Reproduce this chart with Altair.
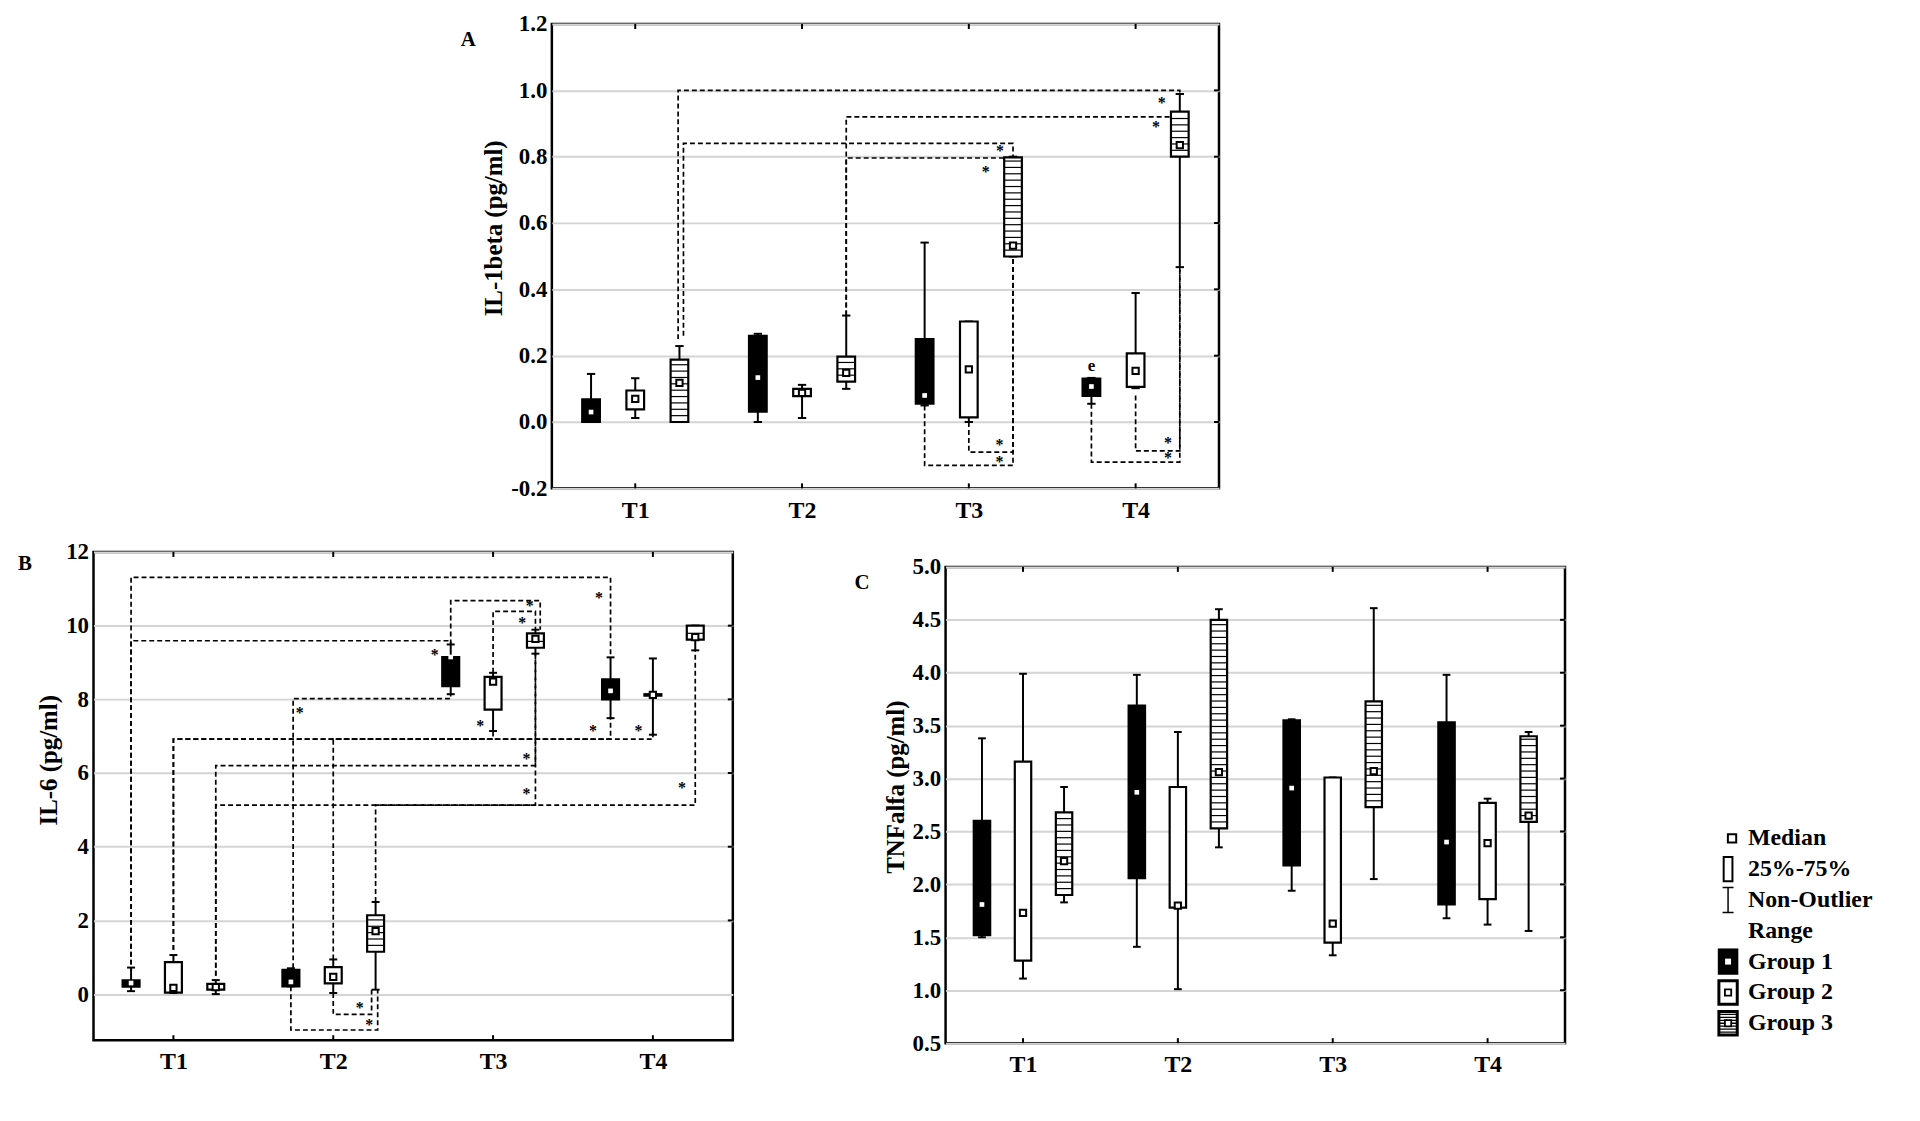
import numpy as np
import pandas as pd
import altair as alt

FONT = "Liberation Serif"

# order of the 12 entries: T1G1, T1G2, T1G3, T2G1, ..., T4G3
# ---- A: IL-1beta (pg/ml) ----
il1_lo = [0.0, 0.012, 0.0, 0.0, 0.012, 0.10, 0.05, 0.0, 0.499, 0.055, 0.102, 0.467]
il1_q1 = [0.0, 0.038, 0.0, 0.031, 0.078, 0.122, 0.055, 0.014, 0.499, 0.079, 0.106, 0.80]
il1_med = [0.03, 0.07, 0.118, 0.134, 0.088, 0.148, 0.08, 0.159, 0.532, 0.107, 0.154, 0.835]
il1_q3 = [0.068, 0.095, 0.188, 0.26, 0.10, 0.197, 0.25, 0.303, 0.798, 0.131, 0.207, 0.936]
il1_hi = [0.145, 0.132, 0.229, 0.266, 0.112, 0.321, 0.541, 0.303, 0.80, 0.133, 0.389, 0.989]

# ---- B: IL-6 (pg/ml) ----
il6_lo = [0.08, 0.03, 0.0, 0.21, 0.03, 0.12, 8.14, 7.14, 9.24, 7.49, 7.04, 9.33]
il6_q1 = [0.20, 0.04, 0.12, 0.21, 0.29, 1.15, 8.36, 7.72, 9.40, 8.00, 8.10, 9.62]
il6_med = [0.30, 0.17, 0.19, 0.33, 0.47, 1.71, 9.15, 8.48, 9.64, 8.23, 8.12, 9.69]
il6_q3 = [0.37, 0.87, 0.28, 0.66, 0.73, 2.14, 9.15, 8.61, 9.79, 8.54, 8.14, 10.0]
il6_hi = [0.72, 1.06, 0.38, 0.70, 0.94, 2.50, 9.49, 8.72, 9.89, 9.14, 9.11, 10.0]

# ---- C: TNFalfa (pg/ml) ----
tnf_lo = [1.50, 1.11, 1.83, 1.41, 1.01, 2.35, 1.94, 1.33, 2.05, 1.68, 1.62, 1.56]
tnf_q1 = [1.52, 1.28, 1.90, 2.06, 1.78, 2.53, 2.18, 1.45, 2.73, 1.81, 1.86, 2.59]
tnf_med = [1.81, 1.73, 2.22, 2.87, 1.80, 3.06, 2.91, 1.63, 3.07, 2.40, 2.39, 2.65]
tnf_q3 = [2.60, 3.16, 2.68, 3.69, 2.92, 4.50, 3.55, 3.01, 3.73, 3.53, 2.77, 3.40]
tnf_hi = [3.38, 3.99, 2.92, 3.98, 3.44, 4.60, 3.56, 3.01, 4.61, 3.98, 2.81, 3.44]

# significance brackets: (from T, from group, from y, level, to T, to group, to y[, leg shifts])
il1_brackets = [
    (1, 3, 0.25, 1.00, 4, 3, 0.989, -0.008, 0),
    (1, 3, 0.26, 0.84, 3, 3, 0.80, 0.024, 0),
    (2, 3, 0.321, 0.92, 4, 3, 0.92),
    (2, 3, 0.321, 0.796, 3, 3, 0.80),
    (3, 1, 0.05, -0.131, 3, 3, 0.50),
    (3, 2, 0.0, -0.091, 3, 3, 0.50),
    (4, 1, 0.055, -0.121, 4, 3, 0.467),
    (4, 2, 0.08, -0.087, 4, 3, 0.467),
]
il6_brackets = [
    (1, 1, 0.80, 11.31, 4, 1, 9.14),
    (1, 1, 0.80, 9.59, 3, 1, 9.49),
    (2, 1, 0.70, 8.02, 3, 1, 8.14, 0.014, 0),
    (1, 2, 1.20, 6.92, 3, 2, 7.14),
    (1, 2, 1.20, 6.92, 4, 2, 7.04),
    (2, 2, 0.94, 6.92, 4, 1, 7.49),
    (1, 3, 0.50, 6.20, 3, 3, 9.24),
    (1, 3, 0.50, 5.13, 4, 3, 9.33),
    (2, 3, 2.50, 5.13, 3, 3, 9.24),
    (3, 1, 9.49, 10.68, 3, 3, 9.89, 0, 0.03),
    (3, 2, 8.72, 10.39, 3, 3, 9.89),
    (2, 2, 0.03, -0.55, 2, 3, 0.12, 0, -0.025),
    (2, 1, 0.21, -0.975, 2, 3, 0.12, 0, 0.013),
]
# stars: (T, group, dx, y)
il1_stars = [(4, 3, -0.108, 0.971), (4, 3, -0.143, 0.899), (3, 3, -0.078, 0.827),
             (3, 3, -0.163, 0.763), (3, 3, -0.082, -0.061), (3, 3, -0.082, -0.112),
             (4, 3, -0.071, -0.053), (4, 3, -0.071, -0.099)]
il6_stars = [(4, 1, -0.072, 10.83), (3, 1, -0.10, 9.28), (2, 1, 0.055, 7.70),
             (3, 2, -0.08, 7.37), (4, 2, -0.09, 7.22), (4, 1, -0.11, 7.22),
             (3, 3, -0.056, 6.45), (3, 3, -0.056, 5.50), (4, 3, -0.083, 5.67),
             (3, 3, -0.035, 10.61), (3, 3, -0.083, 10.14), (2, 3, -0.10, -0.30),
             (2, 3, -0.04, -0.75)]
il1_notes = [(4, 1, 0.0, 0.169, "e")]

TIME_TICKS = [1, 2, 3, 4]
LEGEND_LABELS = ["Median", "25%-75%", "Non-Outlier", "Range", "Group 1", "Group 2", "Group 3"]

OFFSET = {1: -0.265, 2: 0.0, 3: 0.265}
BOX_HALF = 0.053
CAP_HALF = 0.025
X_SCALE = alt.Scale(domain=[0.5, 4.5], nice=False, zero=False)
X_AXIS = alt.Axis(values=TIME_TICKS, labelExpr="'T' + datum.value", grid=False,
                  domain=False, ticks=False, labelFont=FONT, labelFontSize=24,
                  labelFontWeight="bold", labelColor="black", labelPadding=10)


def box_frame(lo, q1, med, q3, hi):
    rows = []
    for i in range(12):
        t, g = i // 3 + 1, i % 3 + 1
        x = t + OFFSET[g]
        rows.append(dict(t=t, g=g, x=x, xl=x - BOX_HALF, xr=x + BOX_HALF,
                         cl=x - CAP_HALF, cr=x + CAP_HALF,
                         lo=lo[i], q1=q1[i], med=med[i], q3=q3[i], hi=hi[i]))
    return pd.DataFrame(rows)


def bracket_frame(brackets):
    rows = []
    for k, b in enumerate(brackets):
        ft, fg, fy, lev, tt, tg, ty = b[:7]
        dxf, dxt = (list(b[7:]) + [0, 0])[:2]
        xf = ft + OFFSET[fg] + dxf
        xt = tt + OFFSET[tg] + dxt
        for j, (x, y) in enumerate([(xf, fy), (xf, lev), (xt, lev), (xt, ty)]):
            rows.append(dict(id=k, seq=j, x=x, y=y))
    return pd.DataFrame(rows)


def hatch_frame(boxes, step):
    rows = []
    for _, r in boxes[boxes.g == 3].iterrows():
        for h in np.arange(r.q1 + step, r.q3 - step * 0.4, step):
            rows.append(dict(xl=r.xl, xr=r.xr, h=h))
    return pd.DataFrame(rows)


def panel(lo, q1, med, q3, hi, cfg, brackets=(), stars=(), notes=()):
    fmt = cfg["fmt"]
    w, h = cfg["width"], cfg["height"]
    y_axis = alt.Axis(values=cfg["ticks"],
                      labelExpr=f"datum.value < 0 ? '-' + format(-datum.value, '{fmt}') : format(datum.value, '{fmt}')",
                      grid=True, gridColor="#d4d4d4", gridWidth=2, domain=False, ticks=False,
                      labelFont=FONT, labelFontSize=23, labelFontWeight="bold", labelColor="black",
                      labelPadding=5, titleFont=FONT, titleFontSize=25, titleFontWeight="bold",
                      titleColor="black", titlePadding=4, titleY=cfg["title_y"])
    y_scale = alt.Scale(domain=cfg["domain"], nice=False, zero=False)

    def X(f):
        return alt.X(f, type="quantitative", scale=X_SCALE, axis=X_AXIS, title=None)

    def Y(f):
        return alt.Y(f, type="quantitative", scale=y_scale, axis=y_axis, title=cfg["title"])

    boxes = box_frame(lo, q1, med, q3, hi)
    step = 6.4 * (cfg["domain"][1] - cfg["domain"][0]) / h
    base = alt.Chart(boxes)
    xt = alt.Chart(pd.DataFrame({"t": TIME_TICKS}))
    yt = alt.Chart(pd.DataFrame({"v": cfg["ticks"][1:-1]}))
    layers = [
        # inner tick marks on the frame (top, bottom, right)
        xt.mark_rule(color="black", strokeWidth=2).encode(x=X("t"), y=alt.value(0), y2=alt.value(5)),
        xt.mark_rule(color="black", strokeWidth=2).encode(x=X("t"), y=alt.value(h - 5), y2=alt.value(h)),
        yt.mark_rule(color="black", strokeWidth=2).encode(x=alt.value(w - 5), x2=alt.value(w), y=Y("v")),
    ]
    if brackets:
        layers.append(alt.Chart(bracket_frame(brackets)).mark_line(
            color="black", strokeWidth=1.7, strokeDash=[5, 3]).encode(
            x=X("x"), y=Y("y"), detail="id:N", order="seq:Q"))
    layers += [
        base.mark_rule(color="black", strokeWidth=2).encode(x=X("x"), y=Y("lo"), y2="hi"),
        base.mark_rule(color="black", strokeWidth=2).encode(x=X("cl"), x2="cr", y=Y("lo")),
        base.mark_rule(color="black", strokeWidth=2).encode(x=X("cl"), x2="cr", y=Y("hi")),
        base.mark_rect(stroke="black", strokeWidth=2.2).encode(
            x=X("xl"), x2="xr", y=Y("q1"), y2="q3",
            fill=alt.Fill("g:N", scale=alt.Scale(domain=[1, 2, 3], range=["black", "white", "white"]),
                          legend=None)),
        alt.Chart(hatch_frame(boxes, step)).mark_rule(color="black", strokeWidth=1.2).encode(
            x=X("xl"), x2="xr", y=Y("h")),
        base.transform_filter("datum.g == 1").mark_square(size=22, color="white", opacity=1).encode(
            x=X("x"), y=Y("med")),
        base.transform_filter("datum.g != 1").mark_square(
            size=40, fill="white", stroke="black", strokeWidth=2, opacity=1).encode(
            x=X("x"), y=Y("med")),
    ]
    if stars:
        sdf = pd.DataFrame([dict(x=t + OFFSET[g] + dx, y=y) for t, g, dx, y in stars])
        layers.append(alt.Chart(sdf).mark_text(
            text="*", font=FONT, fontSize=16, fontWeight="bold", color="black", dy=3).encode(
            x=X("x"), y=Y("y")))
    if notes:
        ndf = pd.DataFrame([dict(x=t + OFFSET[g] + dx, y=y, s=s) for t, g, dx, y, s in notes])
        layers.append(alt.Chart(ndf).mark_text(
            font=FONT, fontSize=17, fontWeight="bold", color="black").encode(
            x=X("x"), y=Y("y"), text="s:N"))
    letter = alt.Chart(pd.DataFrame({"s": [cfg["letter"]]}))
    layers.append(letter.mark_text(
        font=FONT, fontSize=21, fontWeight="bold", color="black").encode(
        x=alt.value(cfg["letter_xy"][0]), y=alt.value(cfg["letter_xy"][1]), text="s:N"))
    return alt.layer(*layers).properties(
        width=w, height=h, view=alt.ViewBackground(stroke="black", strokeWidth=2.5))


def spacer(w, h):
    return alt.Chart(pd.DataFrame({"a": [0]})).mark_point(opacity=0, size=1).encode(
        x=alt.value(0), y=alt.value(0)).properties(
        width=w, height=h, view=alt.ViewBackground(stroke="transparent"))


chart_a = panel(il1_lo, il1_q1, il1_med, il1_q3, il1_hi,
                dict(domain=[-0.2, 1.2], ticks=[-0.2, 0, 0.2, 0.4, 0.6, 0.8, 1.0, 1.2], fmt=".1f",
                     title="IL-1beta (pg/ml)", title_y=205, letter="A", letter_xy=(-84, 16),
                     width=671, height=467),
                il1_brackets, il1_stars, il1_notes)
chart_b = panel(il6_lo, il6_q1, il6_med, il6_q3, il6_hi,
                dict(domain=[-1.25, 12], ticks=[0, 2, 4, 6, 8, 10, 12], fmt="d",
                     title="IL-6 (pg/ml)", title_y=209, letter="B", letter_xy=(-69, 12),
                     width=643, height=491),
                il6_brackets, il6_stars)
chart_c = panel(tnf_lo, tnf_q1, tnf_med, tnf_q3, tnf_hi,
                dict(domain=[0.5, 5.0], ticks=[0.5, 1, 1.5, 2, 2.5, 3, 3.5, 4, 4.5, 5], fmt=".1f",
                     title="TNFalfa (pg/ml)", title_y=221, letter="C", letter_xy=(-84, 16),
                     width=623, height=479))

# legend: custom glyphs
leg = pd.DataFrame({"row": list(range(len(LEGEND_LABELS))), "label": LEGEND_LABELS})
ly = alt.Y("row:O", axis=None, scale=alt.Scale(type="point", range=[288, 474], padding=0))
lb = alt.Chart(leg)
lx = alt.value(21)
RECT = "M -0.78 -1 L 0.78 -1 L 0.78 1 L -0.78 1 Z"
HATCH = " ".join(f"M -0.78 {v} L 0.78 {v}" for v in [-0.75, -0.5, -0.25, 0, 0.25, 0.5, 0.75])
legend = alt.layer(
    lb.transform_filter("datum.row == 0").mark_square(size=70, fill="white", stroke="black",
                                                      strokeWidth=2, opacity=1).encode(x=alt.value(25), y=ly),
    lb.transform_filter("datum.row == 1").mark_point(
        shape="M -0.36 -1 L 0.36 -1 L 0.36 1 L -0.36 1 Z", size=600, filled=False,
        stroke="black", strokeWidth=2, opacity=1).encode(x=lx, y=ly),
    lb.transform_filter("datum.row == 2").mark_point(
        shape="M -0.44 -1 L 0.44 -1 M 0 -1 L 0 1 M -0.44 1 L 0.44 1", size=625, filled=False,
        stroke="black", strokeWidth=1.5, opacity=1).encode(x=lx, y=ly),
    lb.transform_filter("datum.row == 4").mark_point(
        shape=RECT, size=700, filled=True, fill="black", opacity=1).encode(x=lx, y=ly),
    lb.transform_filter("datum.row == 4").mark_square(size=36, color="white", opacity=1).encode(x=lx, y=ly),
    lb.transform_filter("datum.row >= 5").mark_point(
        shape=RECT, size=560, filled=True, fill="white", stroke="black", strokeWidth=3,
        opacity=1).encode(x=lx, y=ly),
    lb.transform_filter("datum.row == 6").mark_point(
        shape=HATCH, size=560, filled=False, stroke="black", strokeWidth=1.3, opacity=1).encode(x=lx, y=ly),
    lb.transform_filter("datum.row >= 5").mark_square(
        size=40, fill="white", stroke="black", strokeWidth=1.8, opacity=1).encode(x=lx, y=ly),
    lb.mark_text(align="left", baseline="middle", font=FONT, fontSize=24, fontWeight="bold",
                 color="black").encode(x=alt.value(41), y=ly, text="label:N"),
).properties(width=200, height=486, view=alt.ViewBackground(stroke="transparent"))

top_row = alt.hconcat(spacer(357, 10), chart_a, spacing=10)
col_c = alt.vconcat(spacer(10, 1), chart_c, spacing=0)
bottom_row = alt.hconcat(chart_b, col_c, spacing=118)
bottom_row = alt.hconcat(bottom_row, legend, spacing=139)

chart = alt.vconcat(top_row, bottom_row, spacing=15).properties(
    padding={"left": 8, "top": 0, "right": 5, "bottom": 5})

chart.save("out.html", embed_options={"renderer": "svg", "actions": False})
